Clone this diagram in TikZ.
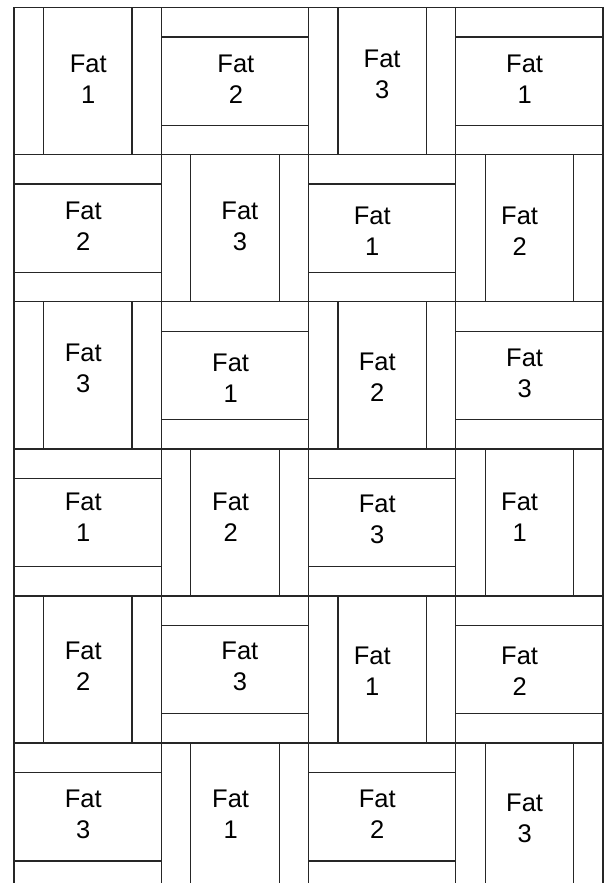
\documentclass[tikz,border=0pt]{standalone}
\usepackage{fontspec}
\setmainfont{Liberation Sans}

\begin{document}
\begin{tikzpicture}[
  x=1pt,y=-1pt,
  block/.style={draw=black!85,line width=1.4pt},
  fat/.style={font=\fontsize{25.5}{31}\selectfont,align=center,inner sep=0pt}
]
\useasboundingbox (0,0) rectangle (613,883);
\fill[white] (0,0) rectangle (613,883);
\begin{scope}
\clip (0,0) rectangle (613,883);
% row/column/label shift x/label shift y
\foreach \r/\c/\dx/\dy in {
  0/0/0.6/0,    0/1/1/0,      0/2/0/-5,      0/3/-4.7/-0.6,
  1/0/-4.3/-0.4, 1/1/5/-0.4,  1/2/-9.8/4.6,  1/3/-9.7/4.6,
  2/0/-4.3/-5.2, 2/1/-4.2/4.2, 2/2/-4.8/3.5, 2/3/-4.7/-0.8,
  3/0/-4.3/-3.6, 3/1/-4.2/-3.6, 3/2/-4.8/-1.3, 3/3/-9.7/-3.6,
  4/0/-4.3/-1.7, 4/1/5/-1.7,  4/2/-9.8/3.3,  4/3/-9.7/3.3,
  5/0/-4.3/-1.1, 5/1/-4.2/-1.1, 5/2/-4.8/-1.1, 5/3/-4.7/2.9}{
  \pgfmathsetmacro{\xa}{14+147.25*\c}
  \pgfmathsetmacro{\ya}{7.5+147.1*\r}
  \pgfmathtruncatemacro{\n}{mod(\r+\c,3)+1}
  \pgfmathtruncatemacro{\p}{mod(\r+\c,2)}
  \draw[block] (\xa,\ya) rectangle +(147.25,147.1);
  \ifnum\p=0
    % strips standing upright
    \draw[block] (\xa+29.5,\ya) -- +(0,147.1);
    \draw[block] (\xa+118,\ya) -- +(0,147.1);
  \else
    % strips lying flat
    \draw[block] (\xa,\ya+29.5) -- +(147.25,0);
    \draw[block] (\xa,\ya+117.8) -- +(147.25,0);
  \fi
  \node[fat] (fat-\r-\c) at (\xa+73.6+\dx,\ya+72.2+\dy) {Fat\\\n};
}
\end{scope}
\end{tikzpicture}
\end{document}
